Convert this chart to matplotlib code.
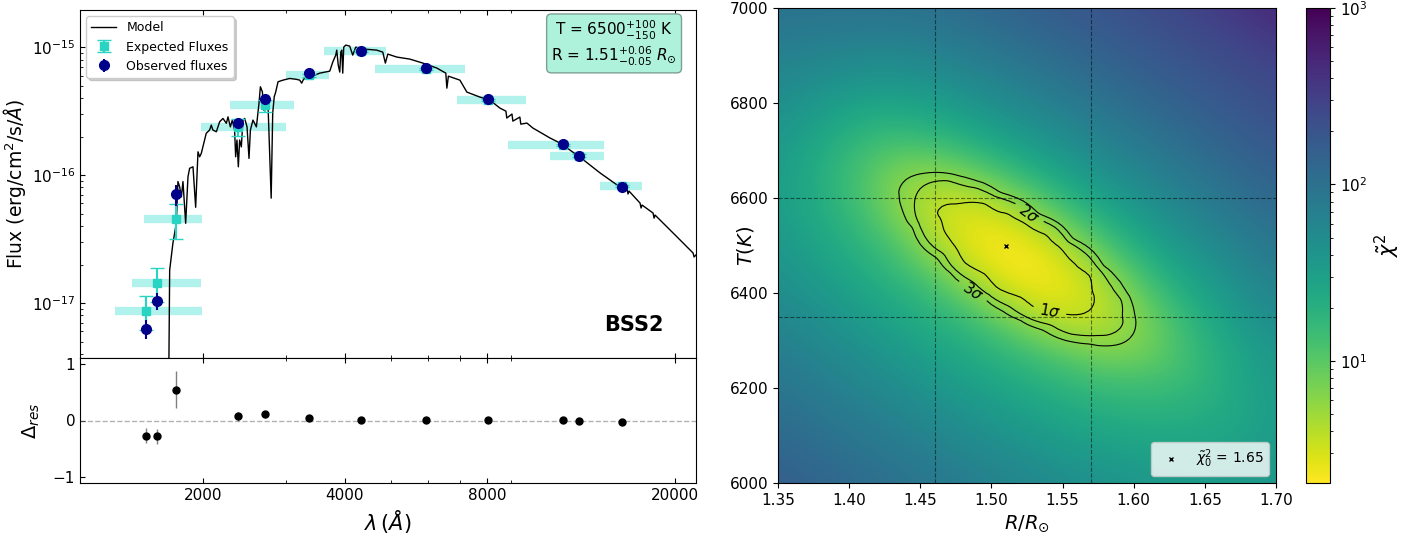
import numpy as np
import matplotlib
matplotlib.use('Agg')
import matplotlib.pyplot as plt
import matplotlib.tri as mtri
from matplotlib.colors import LogNorm
from matplotlib.ticker import FixedLocator, FixedFormatter, NullFormatter

# model spectrum: wavelength (A) and flux (1e-17 erg/cm2/s/A)
model_wave = [1690, 1697, 1703, 1730, 1759, 1773, 1788, 1803, 1817, 1841, 1862, 1877, 1908, 1933, 1955,
              1971, 1987, 2019, 2035, 2069, 2086, 2102, 2138, 2173, 2208, 2245, 2263, 2289, 2311, 2337,
              2349, 2364, 2380, 2395, 2415, 2434, 2455, 2483, 2507, 2524, 2556, 2599, 2632, 2650, 2676,
              2693, 2710, 2729, 2750, 2793, 2814, 2835, 2856, 2888, 2959, 3057, 3159, 3210, 3241, 3272,
              3371, 3539, 3716, 3771, 3826, 3845, 3873, 3902, 3921, 3940, 3959, 3978, 4018, 4096, 4156,
              4218, 4300, 4343, 4407, 4673, 4812, 4873, 4931, 5152, 5490, 5850, 6263, 6543, 6577, 6625,
              7008, 7251, 7725, 8112, 8516, 8770, 8808, 9032, 9072, 9387, 9430, 9715, 10004, 10870, 11415,
              12585, 13874, 15295, 15826, 15904, 15981, 16864, 16947, 17030, 17968, 18056, 18144, 19236,
              20498, 21838, 21944, 22157]
model_flux = [0.15, 0.38, 1.81, 2.93, 4.2, 8.9, 8.1, 6.77, 8.9, 4.2, 9.7, 11.3, 11.6, 5.6, 15.2,
              13.9, 14.8, 18.8, 21.2, 22.5, 24.6, 22.5, 21.8, 26.1, 27.7, 25.4, 28.5, 23.8, 26.9, 22.5,
              13.9, 18.8, 11.6, 18.8, 16.6, 26.9, 27.7, 23.8, 13.5, 22.5, 26.9, 23.8, 36.3, 49.0, 44.7,
              32.2, 38.5, 34.2, 36.0, 6.6, 30.5, 40.9, 44.7, 53.6, 55.2, 56.9, 56.0, 55.2, 52.3, 56.3,
              58.3, 62.6, 64.9, 76.4, 86.6, 94.7, 72.3, 63.8, 91.4, 94.7, 62.6, 100, 103.7, 101.8, 86.6,
              100, 98.2, 86.6, 96.5, 94.7, 91.4, 75.0, 88.2, 83.6, 80.6, 75.0, 68.6, 62.6, 47.8, 59.3,
              55.2, 44.5, 40.7, 38.5, 33.4, 31.6, 27.9, 30.0, 26.4, 28.4, 25.0, 25.5, 23.3, 19.5, 17.8,
              13.8, 10.4, 8.06, 7.78, 7.11, 7.5, 6.04, 5.53, 5.83, 5.05, 4.61, 4.87, 3.93,
              3.11, 2.46, 2.29, 2.38]

# photometric points (fluxes in 1e-17 erg/cm2/s/A)
filt_wave = [1520, 1603, 1753, 2376, 2706, 3359, 4337, 5928, 8044, 11565, 12543, 15425]
band_lo = [1306, 1418, 1502, 1987, 2288, 3001, 3612, 4644, 6895, 8865, 10870, 13870]
band_hi = [1990, 1988, 1993, 3001, 3123, 3699, 4884, 7178, 9654, 14150, 14150, 17000]
obs_flux = [0.63, 1.04, 7.07, 25.6, 39.0, 63.0, 93.6, 68.2, 39.2, 17.4, 14.2, 8.1]
obs_err = [0.11, 0.16, 1.3, 1.9, 2.1, 1.3, 1.5, 0.7, 0.6, 0.3, 0.25, 0.2]
exp_flux = [0.871, 1.44, 4.56, 23.8, 35.1, 60.2, 93.0, 67.8, 38.5, 17.3, 14.2, 8.29]
exp_err = [0.26, 0.43, 1.4, 3.5, 3.8, 1.5, 2.0, 1.0, 0.6, 0.3, 0.3, 0.15]
resid = [-0.27, -0.28, 0.545, 0.075, 0.11, 0.046, 0.006, 0.006, 0.017, 0.006, 0.0, -0.023]
resid_err = [0.13, 0.13, 0.32, 0.08, 0.06, 0.02, 0.02, 0.01, 0.015, 0.02, 0.02, 0.025]

# reduced chi2 over the (R, T) grid, rows from T = 6000 K upwards
R_grid = [1.35, 1.375, 1.40, 1.425, 1.45, 1.475, 1.50, 1.525, 1.55, 1.575, 1.60, 1.625, 1.65, 1.675, 1.70]
T_grid = [6000, 6050, 6100, 6150, 6200, 6250, 6300, 6350, 6400, 6450, 6500,
          6550, 6600, 6650, 6700, 6750, 6800, 6850, 6900, 6950, 7000]
chi2_grid = [
    [153, 135, 118, 102, 89, 76, 65, 56, 49, 43, 38, 36, 35, 35, 38],
    [135, 118, 102, 88, 75, 64, 54, 46, 39, 34, 31, 29, 29, 31, 35],
    [119, 103, 88, 75, 63, 52, 44, 37, 31, 27, 25, 24, 25, 28, 33],
    [104, 89, 75, 63, 52, 43, 35, 29, 24, 21, 19, 19, 21, 25, 33],
    [90, 76, 63, 52, 42, 34, 28, 22, 18, 15, 14, 15, 18, 25, 34],
    [78, 65, 53, 42, 34, 27, 21, 16, 12, 8.89, 8.73, 11, 17, 25, 37],
    [67, 54, 44, 34, 27, 21, 15, 9.09, 5.91, 5.11, 6.15, 10, 18, 28, 42],
    [57, 46, 36, 28, 21, 15, 8.00, 4.54, 3.44, 3.68, 5.57, 11, 21, 34, 50],
    [49, 38, 30, 22, 16, 8.19, 4.15, 2.73, 2.54, 3.50, 6.68, 15, 27, 42, 60],
    [42, 32, 24, 17, 9.68, 4.52, 2.63, 2.07, 2.58, 4.49, 10, 22, 35, 52, 72],
    [37, 28, 20, 13, 5.87, 3.12, 2.17, 2.30, 3.61, 7.67, 18, 31, 46, 65, 87],
    [34, 24, 17, 8.89, 4.40, 2.84, 2.59, 3.51, 6.63, 15, 27, 42, 60, 80, 104],
    [32, 23, 14, 7.36, 4.33, 3.54, 4.14, 6.88, 14, 26, 39, 56, 76, 98, 123],
    [33, 22, 14, 7.91, 5.70, 5.86, 8.52, 15, 25, 38, 54, 72, 94, 118, 145],
    [35, 24, 16, 11, 9.82, 12, 18, 27, 38, 53, 71, 91, 114, 141, 170],
    [40, 29, 21, 17, 18, 22, 30, 40, 54, 70, 90, 112, 137, 165, 196],
    [46, 37, 29, 26, 28, 34, 44, 56, 72, 90, 111, 136, 163, 193, 226],
    [55, 48, 41, 38, 41, 49, 60, 75, 92, 112, 135, 162, 190, 222, 257],
    [66, 61, 56, 53, 57, 67, 80, 96, 115, 137, 162, 190, 221, 255, 300],
    [80, 77, 74, 72, 76, 87, 101, 119, 140, 164, 191, 221, 254, 300, 390],
    [96, 94, 94, 94, 98, 109, 125, 145, 168, 193, 222, 254, 300, 380, 480],
]
sigma_levels = [3.21, 4.62, 5.75]
sigma_names = [r'1$\sigma$', r'2$\sigma$', r'3$\sigma$']
best_R, best_T, best_chi2 = 1.51, 6500, 1.65
R_bounds = [1.46, 1.57]
T_bounds = [6350, 6600]

W, H = 1408, 539


def box(l, t, r, bt):
    return [l / W, 1 - bt / H, (r - l) / W, (bt - t) / H]


fig = plt.figure(figsize=(W / 100, H / 100), dpi=100)
ax1 = fig.add_axes(box(80, 10, 696, 358))
ax2 = fig.add_axes(box(80, 358, 696, 483), sharex=ax1)
ax3 = fig.add_axes(box(778, 8, 1276, 483))
cax = fig.add_axes(box(1306, 8, 1330, 483))

# SED panel
s = 1e-17
ax1.hlines(np.array(exp_flux) * s, band_lo, band_hi, colors='turquoise', alpha=0.4, lw=6, zorder=1)
ax1.plot(model_wave, np.array(model_flux) * s, color='k', lw=1, label='Model', zorder=2)
ax1.errorbar(filt_wave, np.array(exp_flux) * s, yerr=np.array(exp_err) * s, fmt='s', color='#2ad4c2',
             ms=6, capsize=5, label='Expected Fluxes', zorder=3)
ax1.errorbar(filt_wave, np.array(obs_flux) * s, yerr=np.array(obs_err) * s, fmt='o', color='darkblue',
             ms=7, label='Observed fluxes', zorder=4)
ax1.set_xscale('log')
ax1.set_yscale('log')
ax1.set_xlim(1100, 22150)
ax1.set_ylim(3.72e-18, 1.95e-15)
ax1.set_ylabel(r'Flux (erg/cm$^2$/s/$\AA$)', fontsize=13.5)
ax1.yaxis.set_label_coords(-0.084, 0.5)
ax1.legend(loc='upper left', fontsize=9, shadow={'color': 'gray', 'alpha': 0.35})
ax1.text(0.867, 0.904, 'T = $6500^{+100}_{-150}$ K\nR = $1.51^{+0.06}_{-0.05}$ $R_{\\odot}$',
         transform=ax1.transAxes, ha='center', va='center', fontsize=11,
         bbox=dict(boxstyle='round', facecolor='#aef2dc', edgecolor='#7f9f95'))
ax1.text(0.899, 0.095, 'BSS2', transform=ax1.transAxes, ha='center', va='center',
         fontsize=15, fontweight='bold')

# residuals
ax2.errorbar(filt_wave, resid, yerr=resid_err, fmt='o', color='k', ecolor='gray', ms=5, elinewidth=1)
ax2.axhline(0, ls='--', color='gray', alpha=0.6, lw=1)
ax2.set_ylim(-1.1, 1.1)
ax2.set_yticks([-1, 0, 1])
ax2.set_xlabel(r'$\lambda\,(\AA)$', fontsize=15)
ax2.set_ylabel(r'$\Delta_{res}$', fontsize=14)
ax2.yaxis.set_label_coords(-0.062, 0.5)

for ax in (ax1, ax2):
    ax.xaxis.set_major_locator(FixedLocator([2000, 4000, 8000, 20000]))
    ax.xaxis.set_major_formatter(FixedFormatter(['2000', '4000', '8000', '20000']))
    ax.xaxis.set_minor_formatter(NullFormatter())
    ax.tick_params(which='both', direction='in', top=True, labelsize=11)
ax1.tick_params(labelbottom=False)

# chi2 map
chi2 = np.array(chi2_grid, dtype=float)
dR = R_grid[1] - R_grid[0]
dT = T_grid[1] - T_grid[0]
im = ax3.imshow(chi2, origin='lower', aspect='auto', cmap='viridis_r', interpolation='bicubic',
                extent=[R_grid[0] - dR / 2, R_grid[-1] + dR / 2, T_grid[0] - dT / 2, T_grid[-1] + dT / 2],
                norm=LogNorm(vmin=2.03, vmax=1000))

# contours from a cubic refinement of the grid
nT, nR = chi2.shape
tris = []
for j in range(nT - 1):
    for i in range(nR - 1):
        k = j * nR + i
        tris.append([k, k + 1, k + nR + 1])
        tris.append([k, k + nR + 1, k + nR])
ii, jj = np.meshgrid(np.arange(nR, dtype=float), np.arange(nT, dtype=float))
tri_idx = mtri.Triangulation(ii.ravel(), jj.ravel(), np.array(tris))
interp = mtri.CubicTriInterpolator(tri_idx, chi2.ravel(), kind='geom')
tri_fine, chi2_fine = mtri.UniformTriRefiner(tri_idx).refine_field(chi2.ravel(), triinterpolator=interp,
                                                                    subdiv=3)
tri_data = mtri.Triangulation(R_grid[0] + dR * tri_fine.x, T_grid[0] + dT * tri_fine.y, tri_fine.triangles)
cs = ax3.tricontour(tri_data, chi2_fine, levels=sigma_levels, colors='k', linewidths=0.8)
ax3.clabel(cs, fmt=dict(zip(sigma_levels, sigma_names)), fontsize=11,
           manual=[(1.541, 6366), (1.528, 6572), (1.480, 6378)])

for v in R_bounds:
    ax3.axvline(v, color='k', ls='--', lw=0.8, alpha=0.5)
for h in T_bounds:
    ax3.axhline(h, color='k', ls='--', lw=0.8, alpha=0.5)
ax3.plot(best_R, best_T, 'kx', ms=3, mew=1, ls='none',
         label=r'$\tilde{\chi}^2_0$ = %.2f' % best_chi2)
ax3.legend(loc='lower right', fontsize=10)
ax3.set_xlim(1.35, 1.70)
ax3.set_ylim(6000, 7000)
ax3.set_xticks(np.arange(1.35, 1.701, 0.05))
ax3.set_yticks(np.arange(6000, 7001, 200))
ax3.tick_params(labelsize=11)
ax3.set_xlabel(r'$R/R_{\odot}$', fontsize=14)
ax3.set_ylabel(r'$T(K)$', fontsize=14)
ax3.yaxis.set_label_coords(-0.045, 0.5)

cb = fig.colorbar(im, cax=cax)
cb.set_label(r'$\tilde{\chi}^2$', fontsize=15)
cb.ax.tick_params(labelsize=11)

fig.savefig('out.png', dpi=100)
